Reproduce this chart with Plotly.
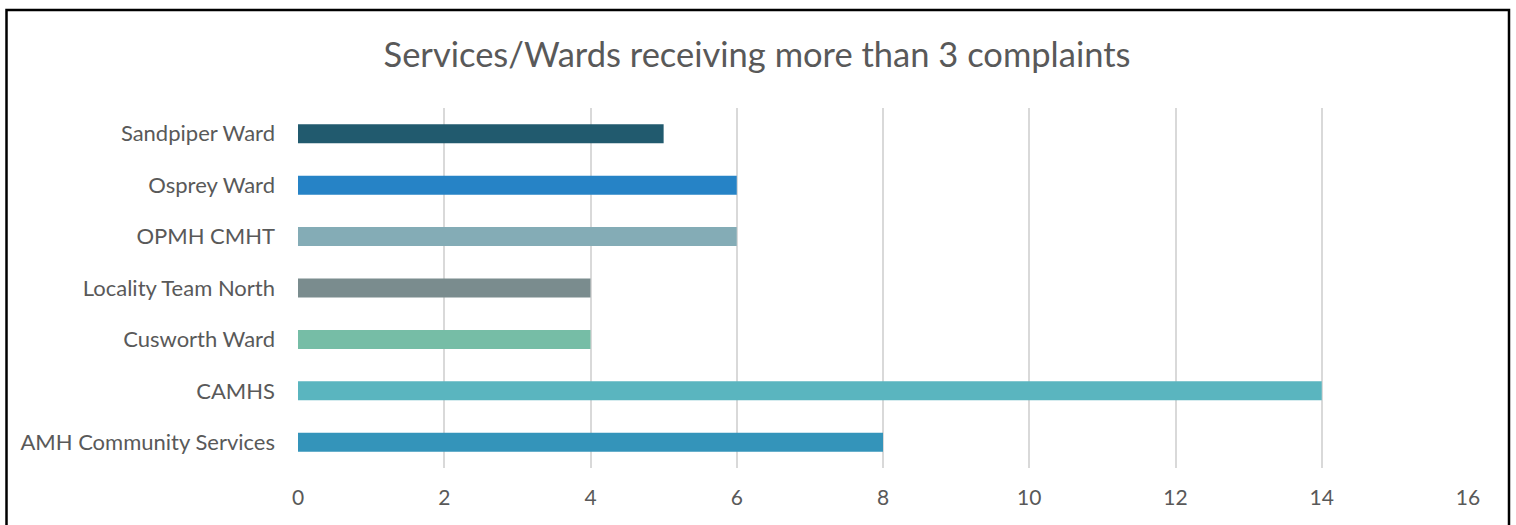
import plotly.graph_objects as go

categories = ["AMH Community Services", "CAMHS", "Cusworth Ward", "Locality Team North",
              "OPMH CMHT", "Osprey Ward", "Sandpiper Ward"]
complaints = [8, 14, 4, 4, 6, 6, 5]
bar_colors = ["#3494BA", "#5AB5BF", "#76BDA6", "#7A8C8E", "#84ACB6", "#2683C6", "#215A6E"]
x_ticks = [0, 2, 4, 6, 8, 10, 12, 14, 16]

W, H = 1516, 525
L, R, T, B = 298, 48, 108, 57
pw, ph = W - L - R, H - T - B

fig = go.Figure(go.Bar(
    x=complaints, y=categories, orientation="h",
    marker=dict(color=bar_colors, line=dict(width=0)),
    hoverinfo="x+y",
))

def px_to_paper_x(px):
    return (px - L) / pw

def px_to_paper_y(py):
    return (H - B - py) / ph

fig.update_layout(
    width=W, height=H,
    margin=dict(l=L, r=R, t=T, b=B, pad=0),
    paper_bgcolor="white", plot_bgcolor="white",
    bargap=0.63,
    showlegend=False,
    font=dict(family="Lato, Calibri, sans-serif", color="#595959"),
    title=dict(text="Services/Wards receiving more than 3 complaints",
               x=px_to_paper_x(757), xref="paper", xanchor="center",
               y=1 - 55 / H, yref="container", yanchor="middle",
               font=dict(size=34.5, color="#595959", family="Lato, Calibri, sans-serif")),
    xaxis=dict(range=[0, 16], tickvals=x_ticks, showgrid=True, gridcolor="#D9D9D9",
               gridwidth=1.5, zeroline=False, showline=False, ticks="",
               tickfont=dict(size=21, color="#595959"), ticklabelstandoff=15,
               fixedrange=True),
    yaxis=dict(type="category", categoryorder="array", categoryarray=categories,
               showgrid=False, zeroline=False, showline=False, ticks="",
               tickfont=dict(size=22, color="#595959"), ticklabelstandoff=22,
               range=[-0.5, len(categories) - 0.5], fixedrange=True),
    shapes=[dict(type="rect", xref="paper", yref="paper",
                 x0=px_to_paper_x(6.5), x1=px_to_paper_x(1509),
                 y0=px_to_paper_y(540), y1=px_to_paper_y(10),
                 line=dict(color="black", width=2.5), fillcolor="rgba(0,0,0,0)",
                 layer="above")],
)

fig.write_html("out.html")
